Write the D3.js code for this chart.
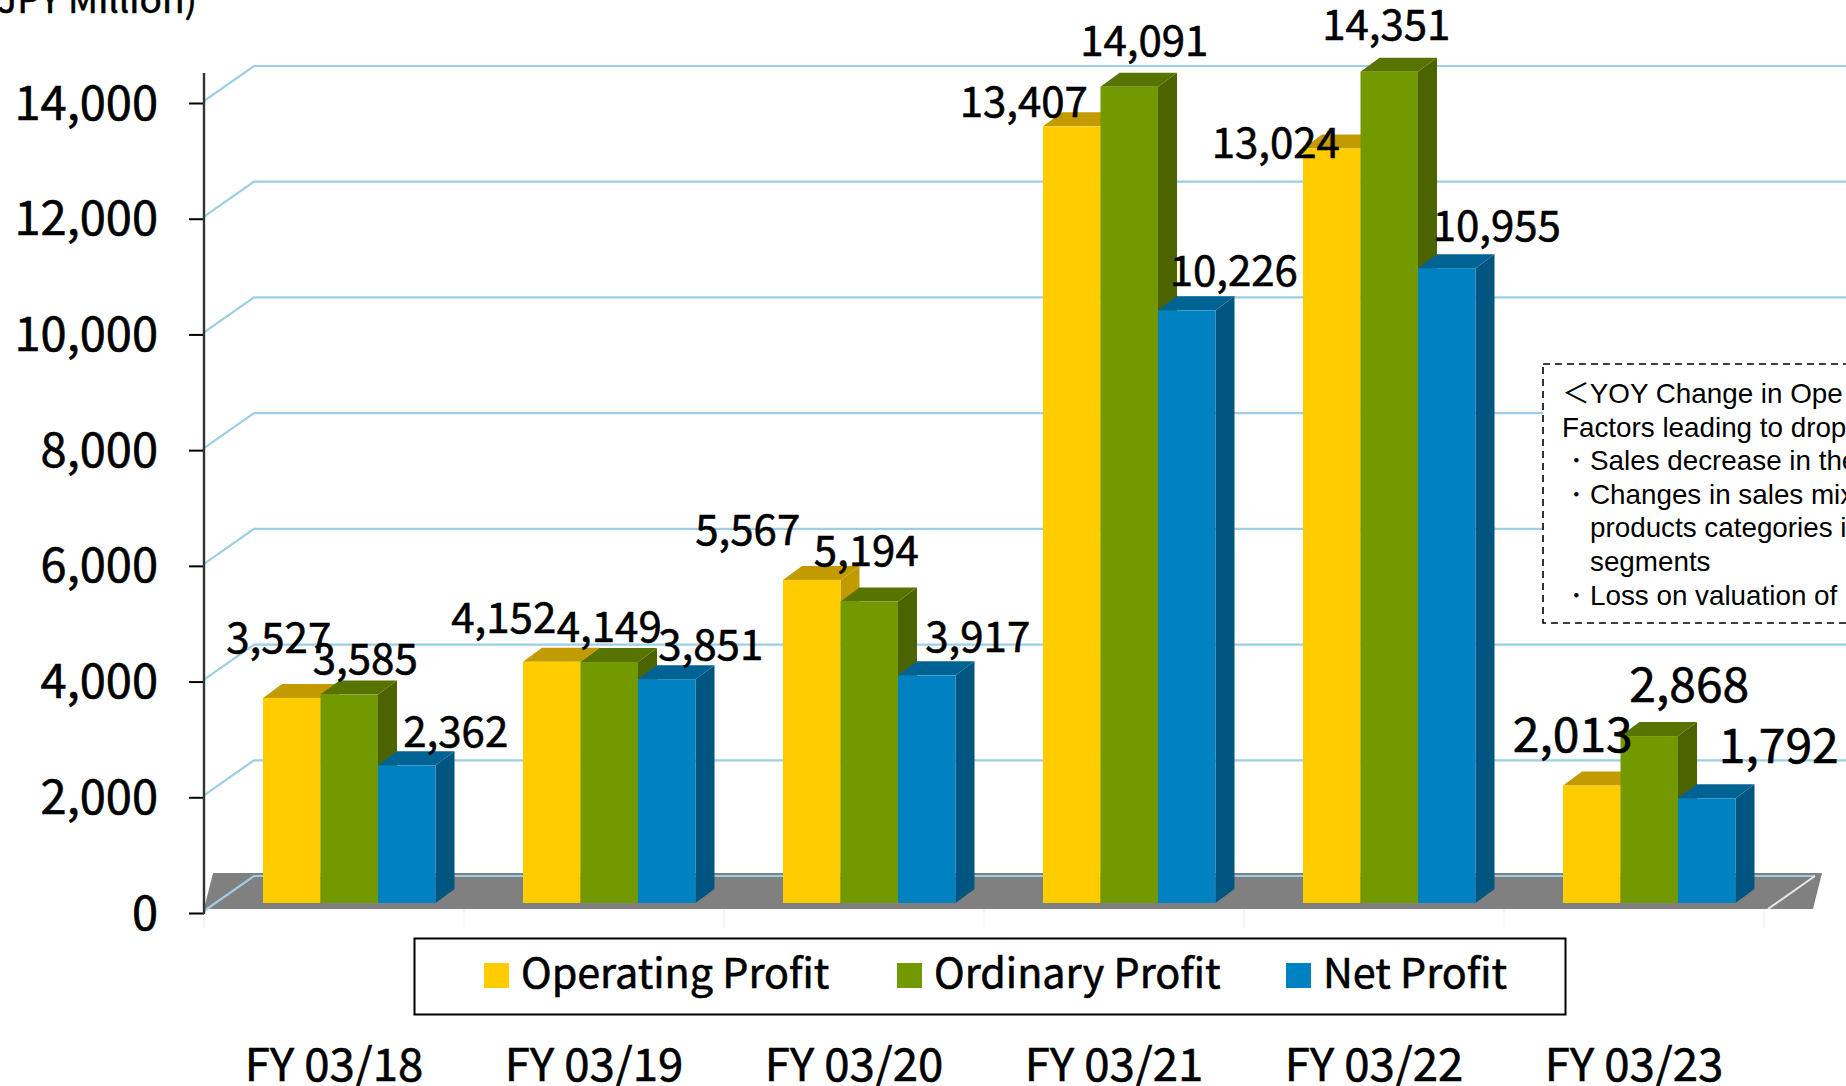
<!DOCTYPE html>
<html>
<head>
<meta charset="utf-8">
<script src="https://cdn.jsdelivr.net/npm/d3@7"></script>
<style>
	html, body { margin: 0; padding: 0; background: #fff; overflow: hidden; }
	svg { display: block; }
	text { font-family: "Noto Sans CJK JP", "Noto Sans", sans-serif; fill: #000; stroke: #000; stroke-width: 0.6px; }
	.note text { font-family: "Liberation Sans", Arial, sans-serif; font-size: 27.8px; stroke: none; }
	.note tspan.wide { font-family: "Noto Sans CJK JP", sans-serif; }
</style>
</head>
<body>
<div id="graphic"></div>
<script>
const categories = ['FY 03/18', 'FY 03/19', 'FY 03/20', 'FY 03/21', 'FY 03/22', 'FY 03/23'];
const seriesNames = ['Operating Profit', 'Ordinary Profit', 'Net Profit'];
const operatingProfit = [3527, 4152, 5567, 13407, 13024, 2013];
const ordinaryProfit = [3585, 4149, 5194, 14091, 14351, 2868];
const netProfit = [2362, 3851, 3917, 10226, 10955, 1792];
const yTicks = [0, 2000, 4000, 6000, 8000, 10000, 12000, 14000];
const noteLines = [
	['YOY Change in Ope', 2],
	['Factors leading to drop', 0],
	['・Sales decrease in the', 0],
	['・Changes in sales mix', 0],
	['products categories i', 1],
	['segments', 1],
	['・Loss on valuation of', 0]
];

// label nudges from the top of each bar, [dx, dy] by series then category
const labelNudge = [
	[[-13, -63], [-48, -47], [-64, -53], [-48, -28], [-56, -9], [-19, -55]],
	[[16, -39], [0, -38], [-3, -54], [15, -49], [-3, -50], [40, -55]],
	[[49, -37], [44, -38], [51, -42], [47, -43], [50, -46], [72, -56]]
];

const seriesValues = [operatingProfit, ordinaryProfit, netProfit];
const colours = [
	{ front: '#FFCC00', top: '#C29B00', side: '#C29B00' },
	{ front: '#739900', top: '#577300', side: '#4B6400' },
	{ front: '#0081C2', top: '#006394', side: '#005581' }
];

const width = 1846, height = 1086;
const depthX = 50, depthY = 37;
const barDepthX = 19, barDepthY = 14;

const svg = d3.select('#graphic').append('svg')
	.attr('width', width)
	.attr('height', height);

// y is the front wall of the chart, the bars stand a little behind it
const y = d3.scaleLinear().domain([0, 14000]).range([913, 103]);
const barOffset = 11;
const x0 = d3.scaleBand().domain(categories).range([204, 1764]);
const x1 = d3.scaleBand().domain(seriesNames).range([59, 231.5]);

// faint ticks under the floor
svg.append('g')
	.selectAll('line')
	.data(d3.range(categories.length + 1))
	.join('line')
	.attr('x1', (d) => 204 + d * x0.step())
	.attr('x2', (d) => 204 + d * x0.step())
	.attr('y1', 909)
	.attr('y2', 928)
	.attr('stroke', '#f6f6f6')
	.attr('stroke-width', 2);

// floor
const backX = 204 + depthX;
svg.append('polygon')
	.attr('points', [[204, 909], [213, 873], [1822, 873], [1813, 909]].join(' '))
	.attr('fill', '#808080');

// grid lines with their diagonal return to the axis
svg.append('g')
	.selectAll('path')
	.data(yTicks)
	.join('path')
	.attr('fill', 'none')
	.attr('stroke', '#9CCEE5')
	.attr('stroke-width', 2.2)
	.attr('d', (d) => d3.line()([
		[204, y(d) - 2],
		[backX, y(d) - depthY],
		[d === 0 ? 1815 : width, y(d) - depthY]
	]));

// white edge at the right of the floor
svg.append('line')
	.attr('x1', 1815).attr('y1', 876)
	.attr('x2', 1768).attr('y2', 909)
	.attr('stroke', '#e8e8e8')
	.attr('stroke-width', 2);

// note box, painted over the grid lines
const note = svg.append('g').attr('class', 'note');
note.append('rect')
	.attr('x', 1543)
	.attr('y', 364)
	.attr('width', 340)
	.attr('height', 259)
	.attr('fill', '#fff')
	.attr('stroke', '#000')
	.attr('stroke-width', 1.6)
	.attr('stroke-dasharray', '7 5');
note.selectAll('text')
	.data(noteLines)
	.join('text')
	.attr('x', (d) => d[1] === 1 ? 1590 : 1562)
	.attr('y', (d, i) => 403 + i * 33.6)
	.each(function (d) {
		const t = d3.select(this);
		if (d[1] === 2) {
			t.append('tspan').attr('class', 'wide').text('＜');
			t.append('tspan').text(d[0]);
		} else {
			t.text(d[0]);
		}
	});

// bars, left to right so each one covers the side of the one before
seriesNames.forEach((name, s) => {
	const c = colours[s];
	const bars = svg.append('g')
		.attr('class', 'series' + s)
		.selectAll('g')
		.data(categories.map((cat, i) => ({ cat, value: seriesValues[s][i] })))
		.join('g');

	const xL = (d) => x0(d.cat) + x1(name);
	const xR = (d) => xL(d) + x1.bandwidth();
	const yT = (d) => y(d.value) - barOffset;
	const yB = y(0) - barOffset + 1;

	bars.append('polygon')
		.attr('fill', c.side)
		.attr('points', (d) => [[xR(d), yT(d)], [xR(d) + barDepthX, yT(d) - barDepthY], [xR(d) + barDepthX, yB - barDepthY], [xR(d), yB]].join(' '));
	bars.append('polygon')
		.attr('fill', c.top)
		.attr('points', (d) => [[xL(d), yT(d)], [xL(d) + barDepthX, yT(d) - barDepthY], [xR(d) + barDepthX, yT(d) - barDepthY], [xR(d), yT(d)]].join(' '));
	bars.append('rect')
		.attr('fill', c.front)
		.attr('x', xL)
		.attr('y', yT)
		.attr('width', x1.bandwidth())
		.attr('height', (d) => yB - yT(d));
});

// data labels go on top of every bar
seriesNames.forEach((name, s) => {
	svg.append('g')
		.selectAll('text')
		.data(categories.map((cat, i) => ({ cat, i, value: seriesValues[s][i] })))
		.join('text')
		.attr('text-anchor', 'middle')
		.attr('dominant-baseline', 'central')
		.attr('font-size', (d) => d.i === 5 ? 48 : 42)
		.attr('x', (d) => x0(d.cat) + x1(name) + x1.bandwidth() / 2 + labelNudge[s][d.i][0])
		.attr('y', (d) => y(d.value) - barOffset + labelNudge[s][d.i][1])
		.text((d) => d3.format(',')(d.value));
});

// y axis
const yAxis = svg.append('g')
	.attr('transform', 'translate(204, 1)')
	.call(d3.axisLeft(y).tickValues(yTicks).tickSize(15).tickPadding(31).tickFormat(d3.format(',')));
yAxis.select('.domain').remove();
yAxis.selectAll('.tick line').attr('stroke', '#000').attr('stroke-width', 2).attr('transform', 'translate(0, -1)');
yAxis.selectAll('.tick text').attr('font-size', 47).attr('fill', '#000');
svg.append('line')
	.attr('x1', 204).attr('x2', 204)
	.attr('y1', 73).attr('y2', 914)
	.attr('stroke', '#333')
	.attr('stroke-width', 2.4);

svg.append('text')
	.attr('x', 197)
	.attr('y', 13)
	.attr('text-anchor', 'end')
	.attr('font-size', 37)
	.text('(JPY Million)');

// x axis labels
const xAxis = svg.append('g')
	.attr('transform', 'translate(0, 1041)')
	.call(d3.axisBottom(x0).tickSize(0).tickPadding(8));
xAxis.select('.domain').remove();
xAxis.selectAll('.tick text').attr('font-size', 45.5).attr('fill', '#000');

// legend
const legend = svg.append('g');
legend.append('rect')
	.attr('x', 414.5).attr('y', 938.5)
	.attr('width', 1151).attr('height', 76)
	.attr('fill', '#fff')
	.attr('stroke', '#000')
	.attr('stroke-width', 2);
const legendX = [484, 897, 1286];
seriesNames.forEach((name, s) => {
	legend.append('rect')
		.attr('x', legendX[s]).attr('y', 963)
		.attr('width', 25).attr('height', 25)
		.attr('fill', colours[s].front);
	legend.append('text')
		.attr('x', legendX[s] + 37)
		.attr('y', 970)
		.attr('dominant-baseline', 'central')
		.attr('font-size', 41.3)
		.text(name);
});
</script>
</body>
</html>
